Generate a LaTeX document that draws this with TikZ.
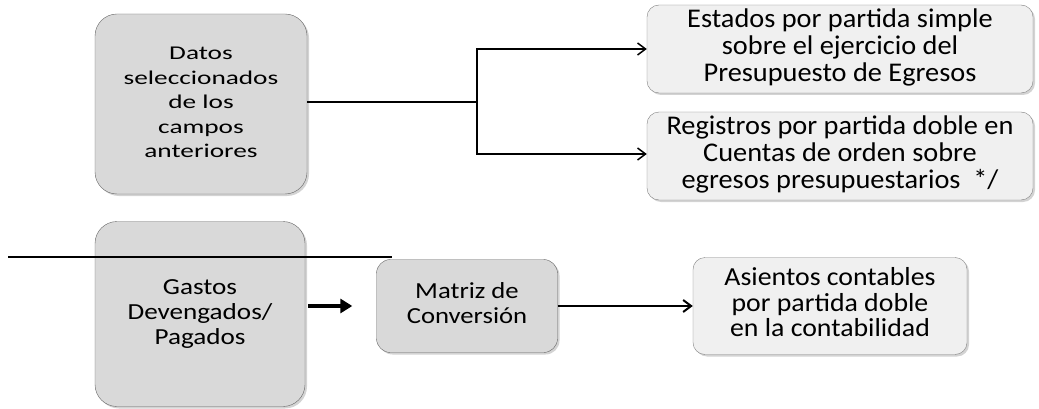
\documentclass[tikz,border=0pt]{standalone}
\usepackage{fontspec}
\usepackage{graphicx}
\setmainfont{Carlito}
\usetikzlibrary{arrows.meta}
\usetikzlibrary{shadows}
\newcommand{\estira}[2]{\scalebox{#1}[1]{\begin{tabular}{@{}c@{}}#2\end{tabular}}}

\begin{document}
\begin{tikzpicture}[x=1pt,y=-1pt,
    dark/.style={draw=black!60, fill=black!15, rounded corners=22pt,
        align=center, inner sep=0pt,
        drop shadow={opacity=0.35, shadow xshift=2pt, shadow yshift=-2pt}},
    light/.style={draw=black!50, fill=black!6, rounded corners=12pt,
        align=center, inner sep=0pt,
        font=\fontsize{27}{27}\selectfont,
        drop shadow={opacity=0.35, shadow xshift=2pt, shadow yshift=-2pt}},
    link/.style={line width=1.5pt, -{Straight Barb[length=8pt,width=12pt]}}]
    \useasboundingbox (0,0) rectangle (1039,409);
    \node[dark, minimum width=212pt, minimum height=180pt,
        font=\fontsize{19.5}{24.5}\selectfont] (datos) at (201,104)
        {\estira{1.4}{Datos\\seleccionados\\de los\\campos\\anteriores}};
    \node[light, minimum width=386pt, minimum height=88pt] (estados) at (840,49)
        {\estira{1.05}{Estados por partida simple\\sobre el ejercicio del\\Presupuesto de Egresos}};
    \node[light, minimum width=386pt, minimum height=88pt] (registros) at (840,156)
        {\estira{1.05}{Registros por partida doble en\\Cuentas de orden sobre\\egresos presupuestarios~~*/}};
    \node[dark, minimum width=210pt, minimum height=185pt,
        font=\fontsize{23}{25}\selectfont] (gastos) at (200,314)
        {\estira{1.18}{Gastos\\Devengados/\\Pagados}};
    \node[dark, rounded corners=14pt, minimum width=181pt, minimum height=93pt,
        font=\fontsize{23}{25}\selectfont] (matriz) at (467,306)
        {\estira{1.16}{Matriz de\\Conversión}};
    \node[light, minimum width=274pt, minimum height=97pt,
        font=\fontsize{26}{24.5}\selectfont] (asientos) at (830,306)
        {\estira{1.07}{Asientos contables\\por partida doble\\en la contabilidad}};
    % ramas
    \coordinate (split) at (477,102);
    \draw[line width=2pt] (datos.east |- split) -- (split);
    \draw[link] (split) |- (estados.west);
    \draw[link] (split) |- ([yshift=2pt]registros.west);
    % linea suelta
    \coordinate (corteA) at (8,257);
    \coordinate (corteB) at (392,257);
    \draw[line width=1.5pt] (corteA) -- (corteB);
    % flujo inferior
    \draw[line width=3.5pt, -{Triangle[length=12pt,width=14pt]}]
        ([xshift=3pt]gastos.east |- matriz.west) -- ([xshift=-24pt]matriz.west);
    \draw[line width=2pt, -{Straight Barb[length=8pt,width=12pt]}]
        (matriz.east) -- (asientos.west);
\end{tikzpicture}
\end{document}
